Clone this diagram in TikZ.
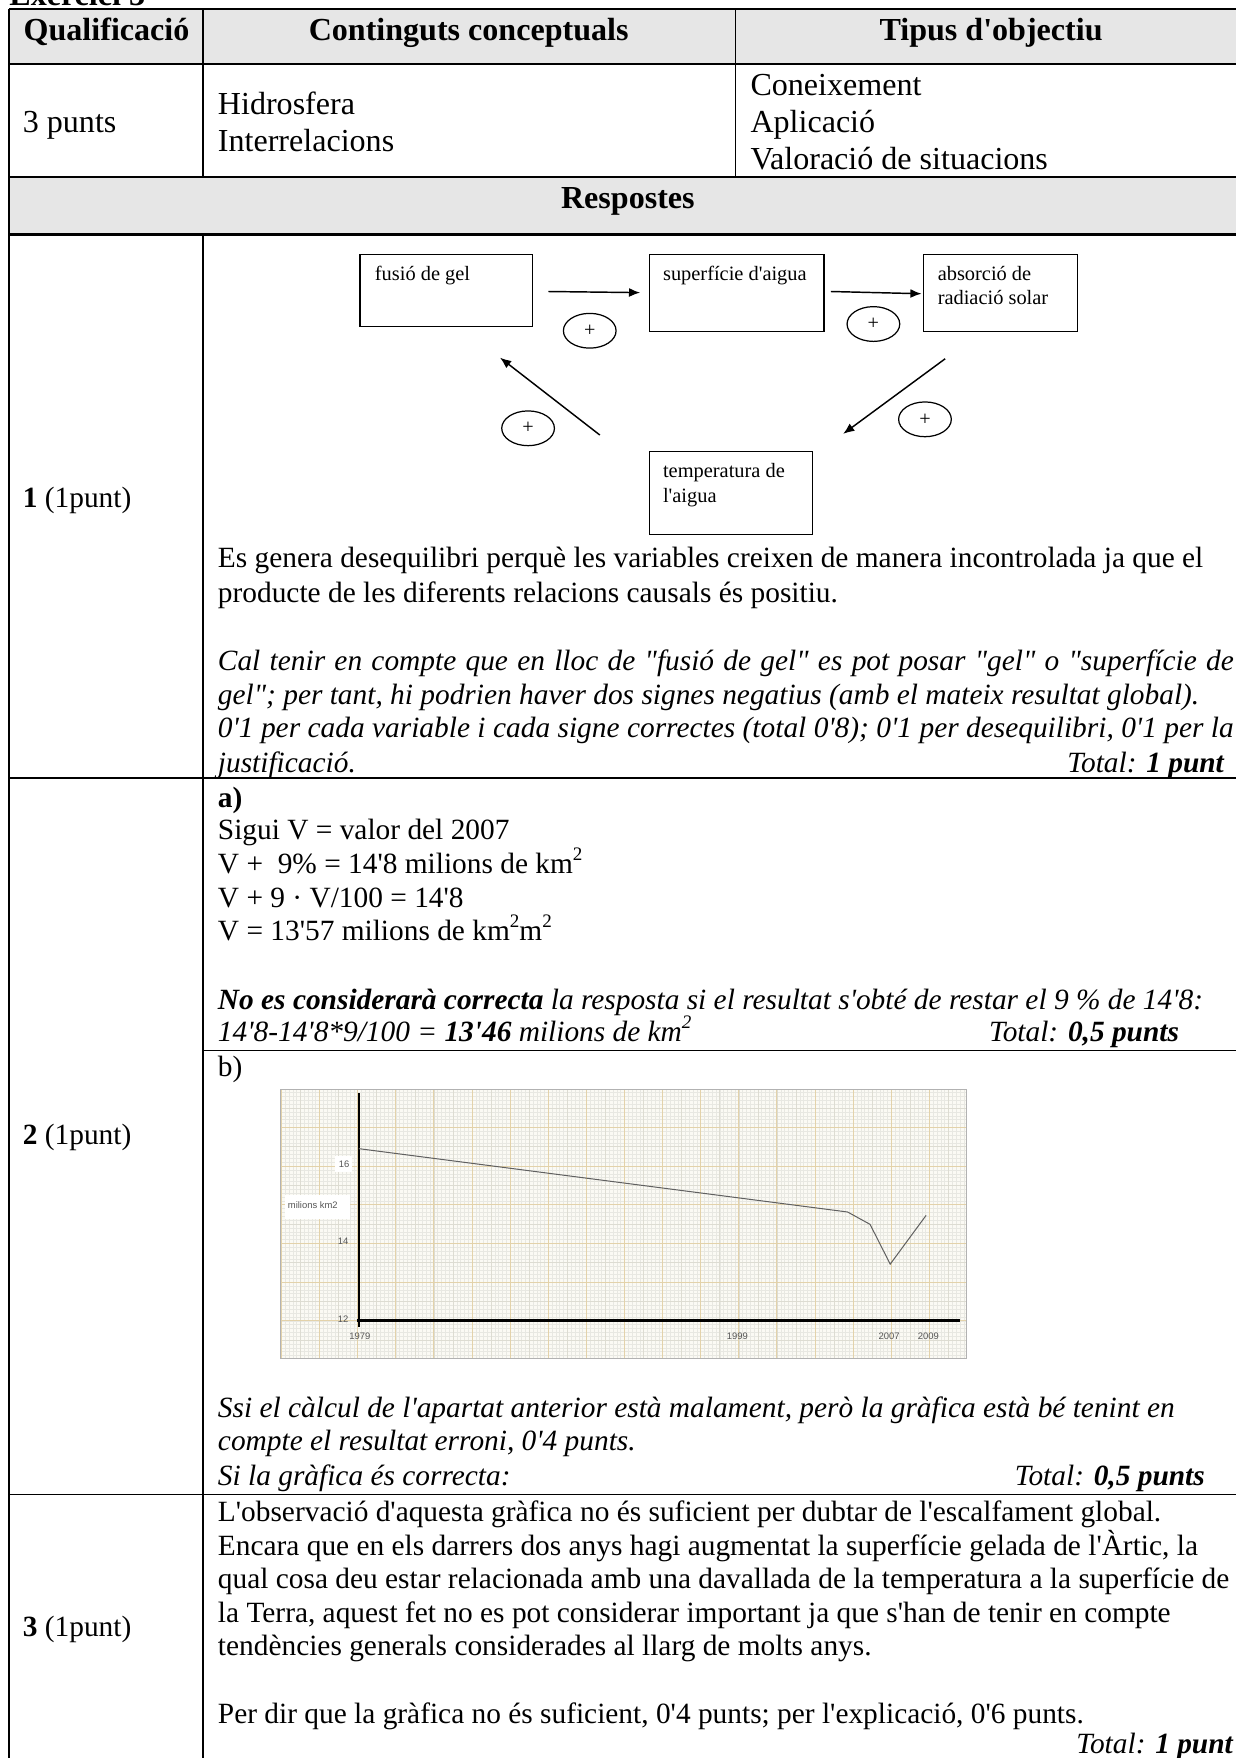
\documentclass[tikz,border=0pt]{standalone}
\usepackage{fontspec}
\setmainfont{Liberation Serif}[Ligatures=TeXOff]
\setsansfont{Liberation Sans}
\usetikzlibrary{arrows.meta,shapes.geometric}
\definecolor{hdr}{HTML}{E6E6E6}
\definecolor{paper}{HTML}{FBFAF4}
\definecolor{gminor}{HTML}{E8E8E2}
\definecolor{gmid}{HTML}{DDDCD2}
\definecolor{gmajor}{HTML}{E3D2AA}
\definecolor{glabel}{HTML}{555555}
\newcommand\sqsup{\raisebox{0.95ex}{\fontsize{8.5}{9}\selectfont 2}}
\begin{document}
\begin{tikzpicture}[x=0.5pt,y=-0.5pt,
  txt/.style={anchor=base west,inner sep=0pt,font=\fontsize{13.1}{15}\selectfont},
  txti/.style={txt,font=\fontsize{13.1}{15}\selectfont\itshape},
  txte/.style={txt,anchor=base east},
  txtie/.style={txti,anchor=base east},
  big/.style={anchor=base west,inner sep=0pt,font=\fontsize{14.3}{16}\selectfont},
  hd/.style={anchor=base,inner sep=0pt,font=\fontsize{14.3}{16}\selectfont\bfseries},
  tline/.style={line width=0.8pt},
  thline/.style={line width=1.1pt},
  dbox/.style={draw,line width=0.55pt,inner sep=0pt},
  dtxt/.style={anchor=base west,inner sep=0pt,font=\fontsize{9.1}{10}\selectfont},
  sign/.style={draw,line width=0.55pt,ellipse,minimum width=23.5pt,minimum height=15.5pt,inner sep=0pt,font=\fontsize{9}{9}\selectfont},
  conn/.style={line width=0.65pt,-{Latex[length=5pt,width=4pt]}},
  gl/.style={inner sep=0pt,font=\sffamily\fontsize{4.2}{5}\selectfont,text=glabel},
]
\useasboundingbox (0,0) rectangle (1102.3,1568);
% header fills
\fill[hdr] (8,8) rectangle (1115,57);
\fill[hdr] (8,158) rectangle (1115,209);
% title (cut at top)
\node[anchor=base west,inner sep=0pt,font=\fontsize{14.3}{16}\selectfont\bfseries] (title) at (8,5) {Exercici 3};
% table lines
\draw[tline] (8,8) -- (1115,8);
\draw[tline] (8,57) -- (1115,57);
\draw[thline] (8,158) -- (1115,158);
\draw[thline] (8,209) -- (1115,209);
\draw[thline] (8,694) -- (1115,694);
\draw[tline] (181,937) -- (1115,937);
\draw[tline] (8,1333) -- (1115,1333);
\draw[tline] (8,8) -- (8,1575);
\draw[tline] (181,8) -- (181,158);
\draw[tline] (181,209) -- (181,1575);
\draw[tline] (656,8) -- (656,158);
% header texts
\node[hd] (h1) at (95,36) {Qualificació};
\node[hd] (h2) at (418,36) {Continguts conceptuals};
\node[hd] (h3) at (884,36) {Tipus d'objectiu};
\node[big] (p3) at (20,118) {3 punts};
\node[big] (c1) at (194,102) {Hidrosfera};
\node[big] (c2) at (194,135) {Interrelacions};
\node[big] (o1) at (669,85) {Coneixement};
\node[big] (o2) at (669,118) {Aplicació};
\node[big] (o3) at (669,151) {Valoració de situacions};
\node[hd] (resp) at (560,186) {Respostes};
% row 1
\node[txt] (q1) at (20,453) {\textbf{1} (1punt)};
% diagram
\node[dbox,minimum width=77pt,minimum height=32pt] (fus) at (398,259) {};
\node[dbox,minimum width=78pt,minimum height=34.5pt] (sup) at (657,261.5) {};
\node[dbox,minimum width=68.5pt,minimum height=34.5pt] (abs) at (892.5,261.5) {};
\node[dbox,minimum width=73pt,minimum height=37pt] (tem) at (652,440) {};
\node[dtxt] (fust) at (334,250) {fusió de gel};
\node[dtxt] (supt) at (591,250) {superfície d'aigua};
\node[dtxt] (abst1) at (836,250) {absorció de};
\node[dtxt] (abst2) at (836,272) {radiació solar};
\node[dtxt] (temt1) at (591,426) {temperatura de};
\node[dtxt] (temt2) at (591,448) {l'aigua};
\coordinate (a1s) at (489,260); \coordinate (a1e) at (571,261);
\coordinate (a2s) at (741,260); \coordinate (a2e) at (822,262);
\coordinate (a3s) at (843,320); \coordinate (a3e) at (752,387);
\coordinate (a4s) at (535,388); \coordinate (a4e) at (446,319);
\draw[conn] (a1s) -- (a1e);
\draw[conn] (a2s) -- (a2e);
\draw[conn] (a3s) -- (a3e);
\draw[conn] (a4s) -- (a4e);
\node[sign] (s1) at (526,295) {+};
\node[sign] (s2) at (779,289) {+};
\node[sign] (s3) at (825,374) {+};
\node[sign] (s4) at (471,382) {+};
\node[txt] (r1a) at (194,506) {Es genera desequilibri perquè les variables creixen de manera incontrolada ja que el};
\node[txt] (r1b) at (194,537) {producte de les diferents relacions causals és positiu.};
\node[txti] (r1c) at (194,598) {\makebox[453pt][s]{Cal tenir en compte que en lloc de "fusió de gel" es pot posar "gel" o "superfície de}};
\node[txti] (r1d) at (194,628) {gel"; per tant, hi podrien haver dos signes negatius (amb el mateix resultat global).};
\node[txti] (r1e) at (194,658) {\makebox[453pt][s]{0'1 per cada variable i cada signe correctes (total 0'8); 0'1 per desequilibri, 0'1 per la}};
\node[txti] (r1f) at (194,689) {justificació.};
\node[txtie] (r1t) at (1092,689) {Total: \textbf{1 punt}};
% row 2
\node[txt] (q2) at (20,1021) {\textbf{2} (1punt)};
\node[txt] (ra) at (194,720) {\textbf{a)}};
\node[txt] (ra1) at (194,749) {Sigui V = valor del 2007};
\node[txt] (ra2) at (194,779) {V +\ \ 9\% = 14'8 milions de km\sqsup};
\node[txt] (ra3) at (194,809) {V + 9 · V/100 = 14'8};
\node[txt] (ra4) at (194,839) {V = 13'57 milions de km\sqsup m\sqsup};
\node[txti] (ra5) at (194,900) {\textbf{No es considerarà correcta} la resposta si el resultat s'obté de restar el 9 \% de 14'8:};
\node[txti] (ra6) at (194,929) {14'8-14'8*9/100 = \textbf{13'46} milions de km\sqsup};
\node[txtie] (rat) at (1052,929) {Total: \textbf{0,5 punts}};
\node[txt] (rb) at (194,960) {b)};
% graph
\begin{scope}
\clip (250,972) rectangle (862,1212);
\fill[paper] (250,972) rectangle (862,1212);
\foreach \i in {-21,...,160} \draw[gminor,line width=0.22pt] ({319+\i*3.4},972) -- ({319+\i*3.4},1212);
\foreach \j in {-12,...,60} \draw[gminor,line width=0.22pt] (250,{1178-\j*3.45}) -- (862,{1178-\j*3.45});
\foreach \i in {-5,...,32} \draw[gmid,line width=0.3pt] ({319+\i*17},972) -- ({319+\i*17},1212);
\foreach \j in {-2,...,12} \draw[gmid,line width=0.3pt] (250,{1178-\j*17.25}) -- (862,{1178-\j*17.25});
\foreach \i in {-3,...,16} \draw[gmajor,line width=0.45pt] ({319+\i*34},972) -- ({319+\i*34},1212);
\foreach \j in {-1,...,6} \draw[gmajor,line width=0.45pt] (250,{1178-\j*34.5}) -- (862,{1178-\j*34.5});
\end{scope}
\draw[gray!60,line width=0.4pt] (250,972) rectangle (862,1212);
\draw[black,line width=1pt] (320,975) -- (320,1184);
\draw[black,line width=1.2pt] (318,1178) -- (856,1178);
\draw[gray!75!black,line width=0.45pt] (320,1024.5) -- (756,1081) -- (776,1092) -- (794,1127.5) -- (826,1084);
\fill[white] (254,1066) rectangle (312,1087);
\fill[white] (299,1031) rectangle (314,1045);
\node[gl] (lm) at (279,1075) {milions km2};
\node[gl] (l16) at (307,1038) {16};
\node[gl] (l14) at (306,1107) {14};
\node[gl] (l12) at (306,1176.5) {12};
\node[gl] (l79) at (321,1192) {1979};
\node[gl] (l99) at (657.6,1192) {1999};
\node[gl] (l07) at (793,1192) {2007};
\node[gl] (l09) at (828,1192) {2009};
\node[txti] (rb1) at (194,1264) {Ssi el càlcul de l'apartat anterior està malament, però la gràfica està bé tenint en};
\node[txti] (rb2) at (194,1294) {compte el resultat erroni, 0'4 punts.};
\node[txti] (rb3) at (194,1325) {Si la gràfica és correcta:};
\node[txtie] (rbt) at (1075,1325) {Total: \textbf{0,5 punts}};
% row 3
\node[txt] (q3) at (20,1460) {\textbf{3} (1punt)};
\node[txt] (r31) at (194,1357) {L'observació d'aquesta gràfica no és suficient per dubtar de l'escalfament global.};
\node[txt] (r32) at (194,1387) {Encara que en els darrers dos anys hagi augmentat la superfície gelada de l'Àrtic, la};
\node[txt] (r33) at (194,1417) {qual cosa deu estar relacionada amb una davallada de la temperatura a la superfície de};
\node[txt] (r34) at (194,1447) {la Terra, aquest fet no es pot considerar important ja que s'han de tenir en compte};
\node[txt] (r35) at (194,1477) {tendències generals considerades al llarg de molts anys.};
\node[txt] (r36) at (194,1537) {Per dir que la gràfica no és suficient, 0'4 punts; per l'explicació, 0'6 punts.};
\node[txtie] (r3t) at (1100,1564) {Total: \textbf{1 punt}};
\end{tikzpicture}
\end{document}
